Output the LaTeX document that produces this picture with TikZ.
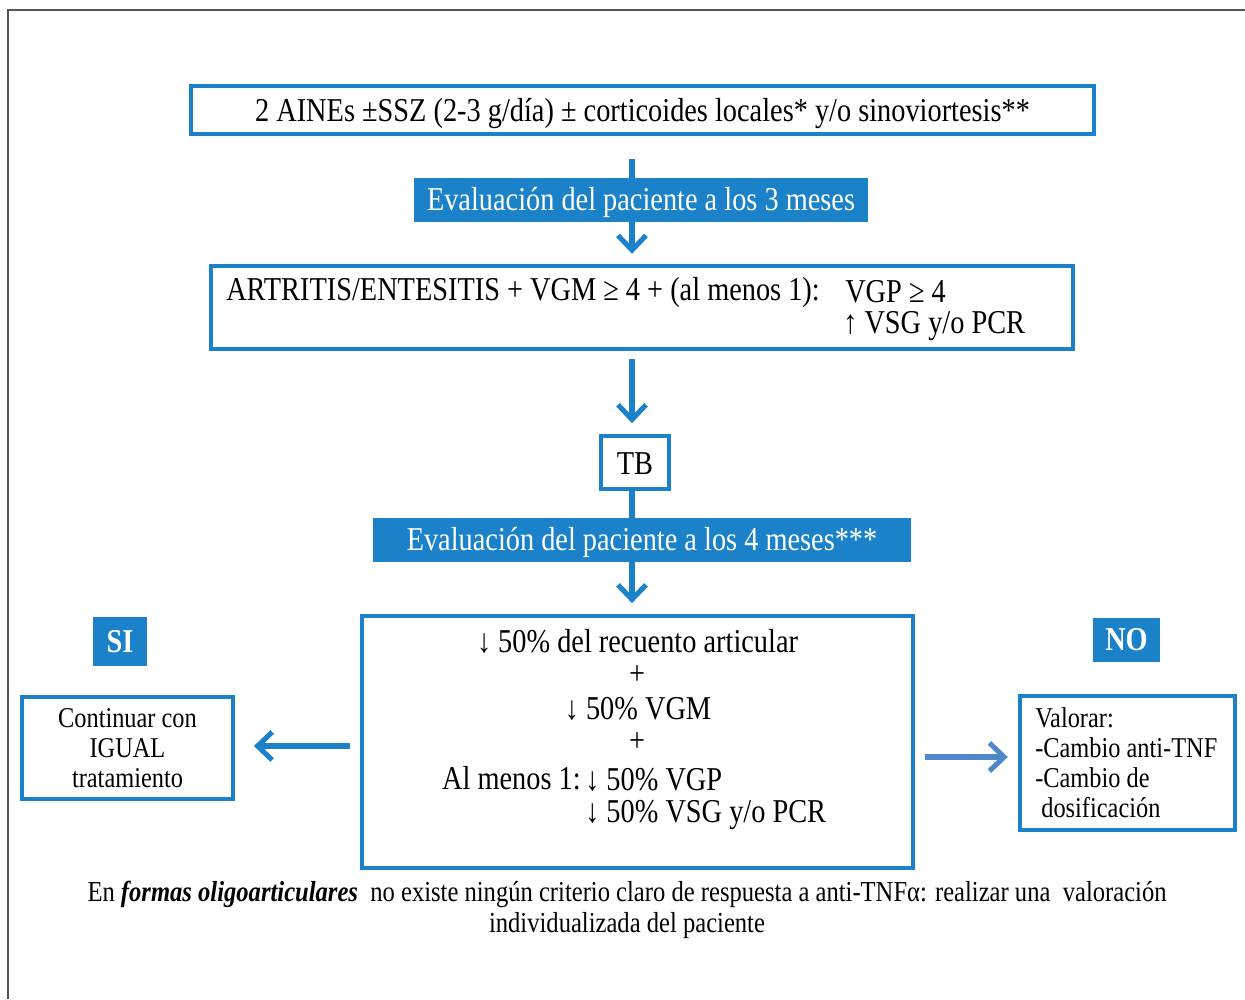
\documentclass[tikz,border=0pt]{standalone}
\usepackage{fontspec}
\setmainfont{Liberation Serif}[FakeStretch=0.85]
\usetikzlibrary{arrows.meta,fit}
\definecolor{cblue}{RGB}{27,130,202}
\definecolor{cbluelight}{RGB}{79,136,200}
\definecolor{framegray}{RGB}{85,85,85}
\begin{document}
\begin{tikzpicture}[x=0.75pt,y=-0.75pt,
  box/.style={draw=cblue, line width=3.3pt, inner sep=0pt, fill=white},
  fbox/.style={fill=cblue, inner sep=0pt},
  conn/.style={draw=cblue, line width=3.8pt},
  arr/.style={conn, -{Straight Barb[length=11pt,width=21pt]}},
  big/.style={font=\fontsize{25}{30}\selectfont, inner sep=0pt},
  wbig/.style={big, text=white},
  wbold/.style={font=\fontsize{25}{30}\selectfont\bfseries, text=white, inner sep=0pt},
  mid/.style={font=\fontsize{21.5}{22.5}\selectfont, inner sep=0pt},
  ]
\useasboundingbox (0,0) rectangle (1245,999);
\draw[framegray, line width=1.6pt] (8,999) -- (8,10) -- (1245,10);
\coordinate (col) at (632,0);

% top box
\node[box, fit={(191,86)(1094,134)}, label={[big, yshift=-3pt]center:2 AINEs ±SSZ (2-3 g/día) ± corticoides locales* y/o sinoviortesis**}] (b1) {};
\node[fbox, fit={(414,178)(868,222)}, label={[wbig, yshift=-2pt]center:Evaluación del paciente a los 3 meses}] (e1) {};
\node[box, fit={(211,266)(1073,349)}] (b2) {};
\node[big, anchor=west] (t2a) at (226,292) {ARTRITIS/ENTESITIS + VGM ≥ 4 + (al menos 1):};
\node[big, anchor=west] (t2b) at (845,292) {VGP ≥ 4};
\node[big, anchor=west] (t2c) at (843,326) {↑ VSG y/o PCR};
\node[box, fit={(601,436)(669,489)}, label={[big, yshift=-1pt]center:TB}] (tb) {};
\node[fbox, fit={(373,518)(911,562)}, label={[wbig, yshift=-2pt]center:Evaluación del paciente a los 4 meses***}] (e2) {};

% response box
\node[box, fit={(362,616)(913,868)}] (b3) {};
\node[big] (r1) at (637.5,641) {↓ 50\% del recuento articular};
\node[big] (r2) at (637,675) {+};
\node[big] (r3) at (638,709) {↓ 50\% VGM};
\node[big] (r4) at (637,742) {+};
\node[big, anchor=east] (r5) at (581,778) {Al menos 1:};
\node[big, anchor=west] (r6) at (585,780) {↓ 50\% VGP};
\node[big, anchor=west] (r7) at (585,815) {↓ 50\% VSG y/o PCR};

% SI / NO
\node[fbox, fit={(93,617)(147,666)}, label={[wbold]center:SI}] (si) {};
\node[fbox, fit={(1093,618)(1160,662)}, label={[wbold]center:NO}] (no) {};

% side boxes
\node[box, fit={(22,697)(233,799)}, label={[mid, align=center]center:Continuar con\\IGUAL\\tratamiento}] (lb) {};
\node[box, fit={(1020,696)(1235,830)}] (rb) {};
\node[mid, anchor=west, align=left] (rt) at (1035,763) {Valorar:\\-Cambio anti-TNF\\-Cambio de\\\ dosificación};

% connectors
\draw[conn, shorten <=17pt] (b1.south -| col) -- (e1.north -| col);
\draw[arr, shorten >=7.5pt] (e1.south -| col) -- (b2.north -| col);
\draw[arr, shorten <=6pt, shorten >=8pt] (b2.south -| col) -- (tb.north -| col);
\draw[conn] (tb.south -| col) -- (e2.north -| col);
\draw[arr, shorten >=8pt] (e2.south -| col) -- (b3.north -| col);
\draw[arr, shorten <=7.5pt, shorten >=14pt] (b3.west |- 0,746) -- (lb.east |- 0,746);
\draw[arr, draw=cbluelight, shorten <=7pt, shorten >=7.5pt] (b3.east |- 0,757) -- (rb.west |- 0,757);

% footnote
\node[font=\fontsize{21.7}{23.25}\selectfont, align=center, inner sep=0pt] (fn) at (627,909.5)
  {En \textbf{\textit{formas oligoarticulares}}\ \ no existe ningún criterio claro de respuesta a anti-TNFα: realizar una\ \ valoración\\individualizada del paciente};
\end{tikzpicture}
\end{document}
